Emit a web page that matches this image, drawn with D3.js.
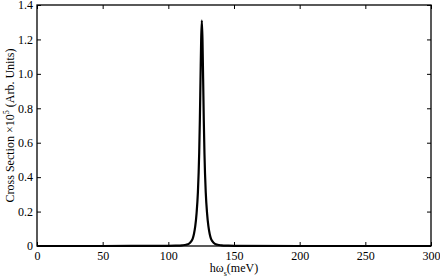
<!DOCTYPE html>
<html>
<head>
  <script src="https://cdnjs.cloudflare.com/ajax/libs/d3/7.8.5/d3.min.js"></script>
  <style>
    body { margin: 0; background: #fff; }
    svg { font-family: "Liberation Serif", "Times New Roman", serif; font-size: 12px; }
  </style>
</head>
<body>
  <svg id="chart" width="440" height="280"></svg>
  <script>
// energy (meV) and cross section (x10^5, arb. units)
var energy = [0, 50, 100, 105.5, 110.5, 113.5, 115.5, 117.5, 118.5, 119.5, 120.5, 121.5, 122.5, 123.5, 124, 124.5, 125, 125.5,
              126, 126.5, 127, 127.5, 128.5, 129.5, 130.5, 131.5, 132.5, 133.5, 135.5, 137.5, 140.5, 145.5, 150, 200, 250, 300];
var crossSection = [0, 0, 0.001, 0.002, 0.004, 0.007, 0.012, 0.028, 0.042, 0.07, 0.115, 0.19, 0.31, 0.54, 0.73, 0.97, 1.2, 1.31,
                    1.2, 0.97, 0.73, 0.54, 0.31, 0.19, 0.115, 0.07, 0.042, 0.028, 0.012, 0.007, 0.004, 0.002, 0.001, 0, 0, 0];
var xTicks = [0, 50, 100, 150, 200, 250, 300];
var yTicks = [0, 0.2, 0.4, 0.6, 0.8, 1.0, 1.2, 1.4];
var yTickLabels = ["0", "0.2", "0.4", "0.6", "0.8", "1.0", "1.2", "1.4"];

var mLeft = 37, mRight = 431, mTop = 5, mBottom = 246;
var svg = d3.select("#chart");

var x = d3.scaleLinear().domain([0, 300]).range([mLeft, mRight]);
var y = d3.scaleLinear().domain([0, 1.4]).range([mBottom, mTop]);

// ticks on all four sides, pointing inward
svg.append("g").attr("transform", "translate(0," + mBottom + ")")
  .call(d3.axisBottom(x).tickValues(xTicks).tickSizeInner(-4).tickSizeOuter(0).tickPadding(5));
svg.append("g").attr("transform", "translate(0," + mTop + ")")
  .call(d3.axisTop(x).tickValues(xTicks).tickSizeInner(-4).tickSizeOuter(0).tickFormat(""));
svg.append("g").attr("transform", "translate(" + mLeft + ",0)")
  .call(d3.axisLeft(y).tickValues(yTicks).tickSizeInner(-4).tickSizeOuter(0).tickPadding(4)
    .tickFormat((d, i) => yTickLabels[i]));
svg.append("g").attr("transform", "translate(" + mRight + ",0)")
  .call(d3.axisRight(y).tickValues(yTicks).tickSizeInner(-4).tickSizeOuter(0).tickFormat(""));

svg.selectAll(".domain").remove();
svg.selectAll(".tick line").attr("stroke", "#000").attr("stroke-width", 1);
svg.selectAll(".tick text").attr("fill", "#000").style("font-size", "12px")
  .style("font-family", "'Liberation Serif', serif");

svg.append("rect")
  .attr("x", mLeft).attr("y", mTop)
  .attr("width", mRight - mLeft).attr("height", mBottom - mTop)
  .attr("fill", "none").attr("stroke", "#000").attr("stroke-width", 1.3);

var line = d3.line()
  .x((d, i) => x(energy[i]))
  .y(d => y(d))
  .curve(d3.curveMonotoneX);

svg.append("path")
  .datum(crossSection)
  .attr("d", line)
  .attr("fill", "none")
  .attr("stroke", "#000")
  .attr("stroke-width", 2.2)
  .attr("stroke-linejoin", "round");

// x label
var xl = svg.append("text")
  .attr("x", (mLeft + mRight) / 2)
  .attr("y", 272)
  .attr("text-anchor", "middle");
xl.append("tspan").text("hω");
xl.append("tspan").attr("dy", 4).style("font-size", "8px").text("s");
xl.append("tspan").attr("dy", -4).text("(meV)");

// y label
var yl = svg.append("text")
  .attr("transform", "translate(14," + (mTop + mBottom) / 2 + ") rotate(-90)")
  .attr("text-anchor", "middle");
yl.append("tspan").text("Cross Section ×10");
yl.append("tspan").attr("dy", -5).style("font-size", "8px").text("5");
yl.append("tspan").attr("dy", 5).text(" (Arb. Units)");
  </script>
</body>
</html>
